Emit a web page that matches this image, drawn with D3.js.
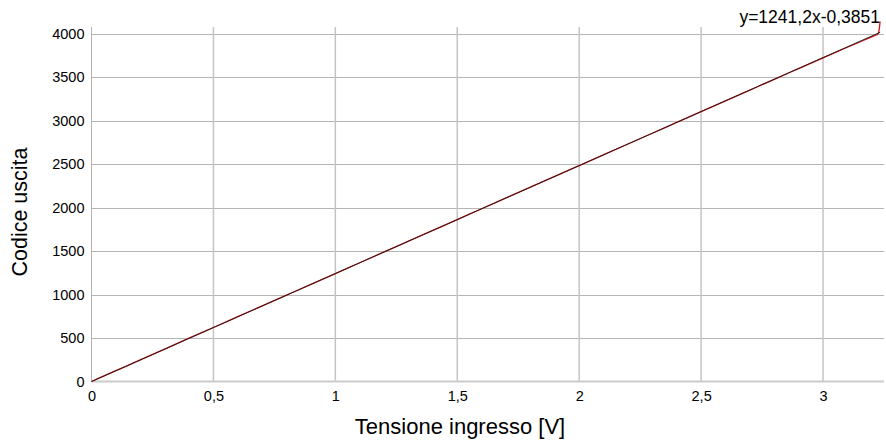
<!DOCTYPE html>
<html><head><meta charset="utf-8">
<script src="https://cdn.jsdelivr.net/npm/d3@7"></script>
<style>body{margin:0;background:#fff}svg{display:block;font-family:"Liberation Sans",Arial,sans-serif}</style>
</head><body><svg id="c" width="886" height="441"></svg>
<script>
const xValues = [0,0.1,0.2,0.3,0.4,0.5,0.6,0.7,0.8,0.9,1.0,1.1,1.2,1.3,1.4,1.5,1.6,1.7,1.8,1.9,2.0,2.1,2.2,2.3,2.4,2.5,2.6,2.7,2.8,2.9,3.0,3.1,3.2,3.215,3.225,3.23,3.234];
const yValues = [0,124,248,373,498,621,745,869,993,1117,1241,1365,1489,1613,1737,1861,1986,2110,2234,2358,2482,2606,2730,2854,2978,3102,3226,3350,3474,3597,3720,3842,3962,3980,3995,4040,4140];
const trendCoef = [1241.2, -0.3851];
const trendLabel = "y=1241,2x-0,3851";
const xTicks = [0,0.5,1,1.5,2,2.5,3];
const yTicks = [0,500,1000,1500,2000,2500,3000,3500,4000];
const xTitle = "Tensione ingresso [V]";
const yTitle = "Codice uscita";

const W=886,H=441, m={l:91.5,r:2,t:27,b:59.5};
const svg=d3.select("#c");
const x=d3.scaleLinear().domain([0,3.25]).range([m.l,W-m.r]);
const y=d3.scaleLinear().domain([0,4075]).range([H-m.b,m.t]);
const fmt=d=>String(d).replace(".",",");

// grid
svg.append("g").selectAll("line").data(yTicks.filter(d=>d>0)).join("line")
  .attr("x1",m.l).attr("x2",W-m.r).attr("y1",d=>Math.round(y(d))+0.5).attr("y2",d=>Math.round(y(d))+0.5)
  .attr("stroke","#b4b4b4").attr("stroke-width",1);
svg.append("g").selectAll("line").data(xTicks.filter(d=>d>0)).join("line")
  .attr("x1",d=>x(d)).attr("x2",d=>x(d)).attr("y1",m.t).attr("y2",H-m.b)
  .attr("stroke","#c4c4c4").attr("stroke-width",1.5);
// axes lines
svg.append("line").attr("x1",m.l).attr("x2",m.l).attr("y1",m.t).attr("y2",H-m.b).attr("stroke","#b4b4b4");
svg.append("line").attr("x1",m.l).attr("x2",W-m.r).attr("y1",H-m.b).attr("y2",H-m.b).attr("stroke","#cccccc").attr("stroke-width",2);

// tick labels
const yAxis=d3.axisLeft(y).tickValues(yTicks).tickSize(0).tickPadding(7).tickFormat(fmt);
const ga=svg.append("g").attr("transform",`translate(${m.l},0)`).call(yAxis);
ga.select(".domain").remove();
ga.selectAll("text").attr("font-size",14.5).attr("fill","#000").attr("font-family","Liberation Sans, Arial, sans-serif");
const xAxis=d3.axisBottom(x).tickValues(xTicks).tickSize(0).tickPadding(9).tickFormat(fmt);
const gx=svg.append("g").attr("transform",`translate(0,${H-m.b})`).call(xAxis);
gx.select(".domain").remove();
gx.selectAll("text").attr("font-size",14.5).attr("fill","#000").attr("font-family","Liberation Sans, Arial, sans-serif");

// data
const pts=xValues.map((v,i)=>[v,yValues[i]]);
svg.append("path").datum(pts).attr("fill","none").attr("stroke","#e01010").attr("stroke-width",1.3)
  .attr("d",d3.line().x(d=>x(d[0])).y(d=>y(d[1])).curve(d3.curveMonotoneX));
const xmax=d3.max(xValues);
svg.append("path").datum([0,xmax]).attr("fill","none").attr("stroke","#1a1a1a").attr("stroke-width",0.9)
  .attr("d",d3.line().x(d=>x(d)).y(d=>y(trendCoef[0]*d+trendCoef[1])));

// trend label
svg.append("text").attr("x",880).attr("y",23).attr("text-anchor","end").attr("font-size",17.5).text(trendLabel);

// titles
svg.append("text").attr("x",460).attr("y",434).attr("text-anchor","middle").attr("font-size",22).text(xTitle);
svg.append("text").attr("transform","translate(27,212) rotate(-90)").attr("text-anchor","middle").attr("font-size",21.5).text(yTitle);
</script></body></html>
